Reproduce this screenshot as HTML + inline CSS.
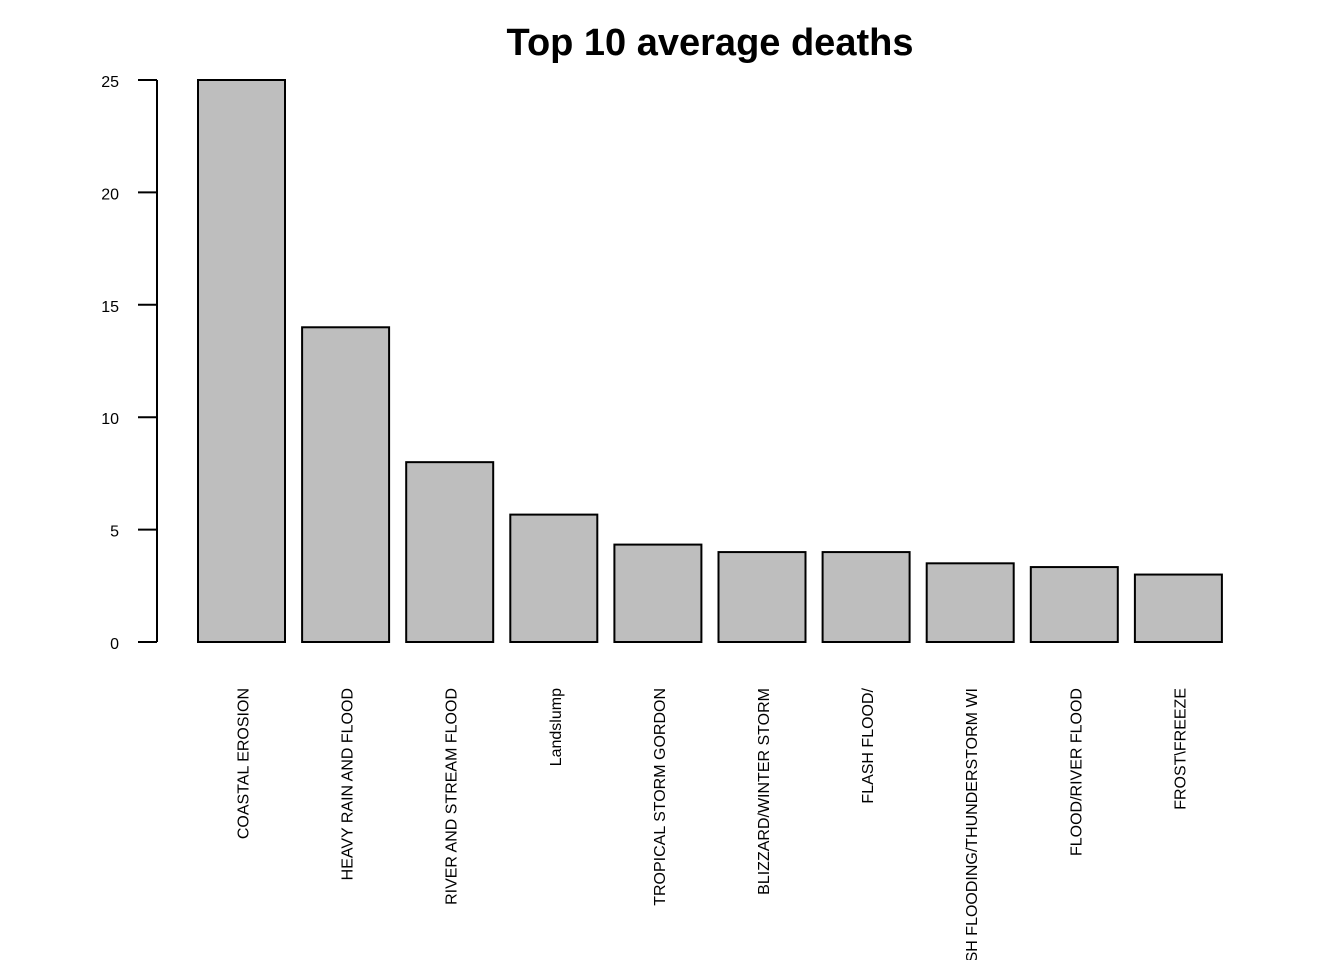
<!DOCTYPE html>
<html><head><meta charset="utf-8"><style>
html,body{margin:0;padding:0;background:#fff;}
svg{display:block;font-family:"Liberation Sans",Arial,sans-serif;}
</style></head><body>
<svg id="chart" width="1344" height="960" viewBox="0 0 1344 960" xmlns="http://www.w3.org/2000/svg">
<text x="710" y="55" text-anchor="middle" font-size="38" font-weight="bold">Top 10 average deaths</text>
<g id="bars"></g><g id="yaxis"></g><g id="xlabels"></g>
</svg>
<script>
const categories = ["COASTAL EROSION","HEAVY RAIN AND FLOOD","RIVER AND STREAM FLOOD","Landslump","TROPICAL STORM GORDON","BLIZZARD/WINTER STORM","FLASH FLOOD/","FLASH FLOODING/THUNDERSTORM WI","FLOOD/RIVER FLOOD","FROST\\FREEZE"];
const values = [25, 14, 8, 5.667, 4.333, 4, 4, 3.5, 3.333, 3];
const yTicks = [0, 5, 10, 15, 20, 25];
const NS = "http://www.w3.org/2000/svg";
const y0 = 642, y1 = 80, yMax = 25;
function yScale(v){ return y0 - (v / yMax) * (y0 - y1); }
const barStart = 198, barStep = 104.1, barW = 87;
function xScale(i){ return barStart + i * barStep; }
const bars = document.getElementById('bars');
values.forEach((v, i) => {
  const r = document.createElementNS(NS, 'rect');
  
  
  r.setAttribute('x', xScale(i));
  r.setAttribute('y', yScale(v));
  r.setAttribute('width', barW);
  r.setAttribute('height', y0 - yScale(v));
  r.setAttribute('fill', '#bebebe');
  r.setAttribute('stroke', '#000');
  r.setAttribute('stroke-width', '2');
  bars.appendChild(r);
});
const ya = document.getElementById('yaxis');
const axis = document.createElementNS(NS, 'line');


axis.setAttribute('x1', 157); axis.setAttribute('x2', 157);
axis.setAttribute('y1', yScale(0)); axis.setAttribute('y2', yScale(yMax));
axis.setAttribute('stroke', '#000'); axis.setAttribute('stroke-width', '2');
ya.appendChild(axis);
yTicks.forEach(t => {
  const l = document.createElementNS(NS, 'line');
  
  
  l.setAttribute('x1', 138); l.setAttribute('x2', 157);
  l.setAttribute('y1', yScale(t)); l.setAttribute('y2', yScale(t));
  l.setAttribute('stroke', '#000'); l.setAttribute('stroke-width', '2');
  ya.appendChild(l);
  const tx = document.createElementNS(NS, 'text');
  
  
  tx.setAttribute('x', 119); tx.setAttribute('y', yScale(t) + 7);
  tx.setAttribute('text-anchor', 'end'); tx.setAttribute('font-size', '16');
  tx.textContent = t;
  ya.appendChild(tx);
});
const xl = document.getElementById('xlabels');
categories.forEach((c, i) => {
  const cx = xScale(i) + barW / 2 + 7;
  const tx = document.createElementNS(NS, 'text');
  
  
  tx.setAttribute('transform', 'translate(' + cx + ',688) rotate(-90)');
  tx.setAttribute('text-anchor', 'end'); tx.setAttribute('font-size', '16');
  tx.textContent = c;
  xl.appendChild(tx);
});
</script>
</body></html>
